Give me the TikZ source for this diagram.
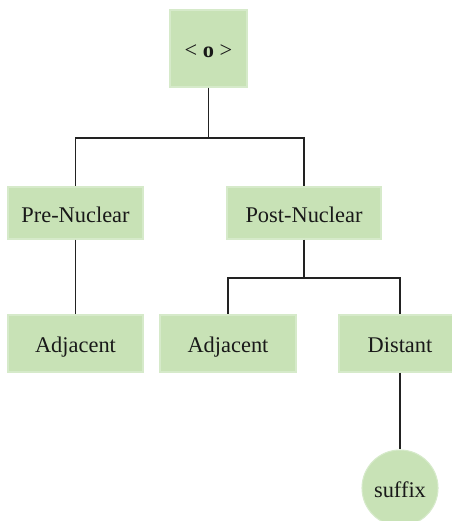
\documentclass[tikz,border=0pt]{standalone}
\usepackage{fontspec}
\setmainfont{Liberation Serif}
\definecolor{leaf}{RGB}{200,226,182}
\definecolor{leafedge}{RGB}{214,234,202}
\definecolor{wire}{RGB}{34,34,34}
\begin{document}
\begin{tikzpicture}[x=0.75pt,y=-0.75pt,
  every node/.style={font=\fontsize{16.8}{20}\selectfont, text=black!90, text height=13.5pt, text depth=0pt},
  tag/.style={rectangle, fill=leaf, draw=leafedge, line width=0.8pt, inner sep=0pt},
  bubble/.style={circle, fill=leaf, draw=leafedge, line width=0.8pt, inner sep=0pt, minimum size=57pt},
  wiring/.style={draw=wire, line width=1pt}]
  \useasboundingbox (0,0) rectangle (451,521);
  \fill[white] (0,0) rectangle (451,521);

  % root
  \node[tag, minimum width=57.75pt, minimum height=57.75pt] (root) at (208.5,48.5) {< \textbf{o} >};

  % second level
  \node[tag, minimum width=101.25pt, minimum height=39pt] (pre)  at (75.5,213) {Pre-Nuclear};
  \node[tag, minimum width=115.5pt,  minimum height=39pt] (post) at (304,213)  {Post-Nuclear};

  % third level
  \node[tag, minimum width=101.25pt, minimum height=42.75pt] (adjA) at (75.5,343.5) {Adjacent};
  \node[tag, minimum width=102pt,    minimum height=42.75pt] (adjB) at (228,343.5)  {Adjacent};
  \node[tag, minimum width=91.5pt,   minimum height=42.75pt] (dist) at (400,343.5)  {Distant};

  % leaf
  \node[bubble] (suf) at (400,488) {suffix};

  % connectors
  \coordinate (busA) at (208.5,138);
  \coordinate (busB) at (304,278);
  \draw[wiring] (root) -- (busA) -| (pre);
  \draw[wiring] (busA) -| (post);
  \draw[wiring] (pre) -- (adjA);
  \draw[wiring] (post) -- (busB) -| (adjB);
  \draw[wiring] (busB) -| (dist);
  \draw[wiring] (dist) -- (suf);
\end{tikzpicture}
\end{document}
